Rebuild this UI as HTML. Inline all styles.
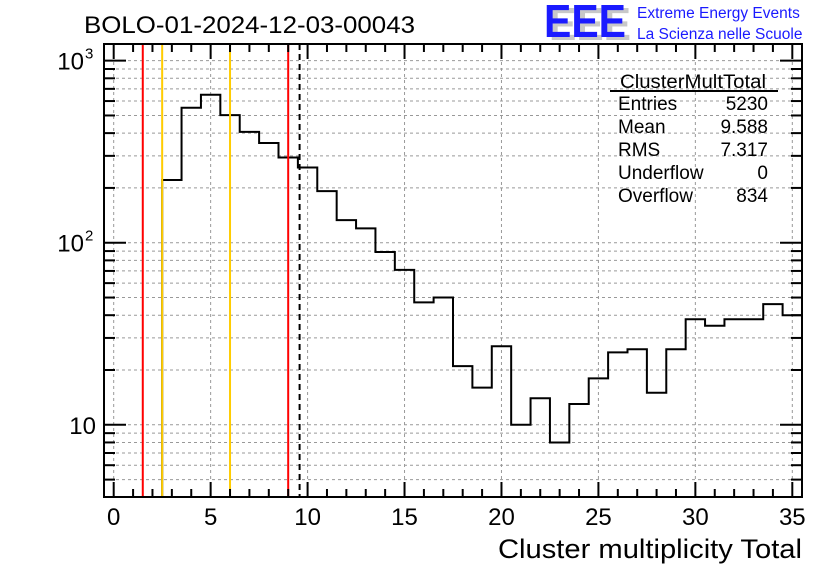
<!DOCTYPE html>
<html><head><meta charset="utf-8"><style>
body{margin:0;background:#fff}
svg{display:block;font-family:"Liberation Sans",sans-serif}
</style></head><body>
<svg id="c" width="836" height="572" xmlns="http://www.w3.org/2000/svg">
<rect width="836" height="572" fill="#fff"/>
<text x="84" y="33" font-size="24" textLength="331" lengthAdjust="spacingAndGlyphs">BOLO-01-2024-12-03-00043</text>
<g>
<text x="549" y="40" font-size="46" font-weight="bold" fill="#c8c8c8" textLength="82" lengthAdjust="spacingAndGlyphs">EEE</text>
<text x="544" y="37" font-size="46" font-weight="bold" fill="#1a1aff" textLength="82" lengthAdjust="spacingAndGlyphs">EEE</text>
<text x="637" y="18" font-size="15.5" fill="#1a1aff">Extreme Energy Events</text>
<text x="637" y="39" font-size="15.5" fill="#1a1aff">La Scienza nelle Scuole</text>
</g>
<g id="grid"></g>
<g id="marks"></g>
<g id="axes"></g>
<g font-size="19">
<text x="620" y="88" textLength="146" lengthAdjust="spacingAndGlyphs">ClusterMultTotal</text>
<line x1="610" y1="91" x2="778" y2="91" stroke="#000" stroke-width="2"/>
<text x="618" y="110">Entries</text><text x="768" y="110" text-anchor="end">5230</text>
<text x="618" y="133">Mean</text><text x="768" y="133" text-anchor="end">9.588</text>
<text x="618" y="156">RMS</text><text x="768" y="156" text-anchor="end">7.317</text>
<text x="618" y="179">Underflow</text><text x="768" y="179" text-anchor="end">0</text>
<text x="618" y="202">Overflow</text><text x="768" y="202" text-anchor="end">834</text>
</g>
<text x="802" y="558" font-size="27" text-anchor="end" textLength="304" lengthAdjust="spacingAndGlyphs">Cluster multiplicity Total</text>
</svg>
<script>
const binCenters = [0,1,2,3,4,5,6,7,8,9,10,11,12,13,14,15,16,17,18,19,20,21,22,23,24,25,26,27,28,29,30,31,32,33,34,35];
const counts = [0,0,0,221,551,650,502,406,353,294,259,192,133,120,89,71,47,50,21,16,27,10,14,8,13,18,25,26,15,26,38,35,38,38,46,40];
const xTicks = [0,5,10,15,20,25,30,35];
const yDecades = [10,100,1000];
const redLines = [1.5,9];
const yellowLines = [2.5,6];
const meanValue = [9.588];

const L=104,R=802,T=44,B=497;
const X0=-0.5,X1=35.5;
const yTop=3.0915, yBot=0.6035;
const sx=v=>L+(v-X0)/(X1-X0)*(R-L);
const sy=v=>{const lv=Math.log10(Math.max(v,1e-9));return T+(yTop-lv)/(yTop-yBot)*(B-T);};
const NS="http://www.w3.org/2000/svg";
function mk(tag,attrs,parent){const e=document.createElementNS(NS,tag);for(const k in attrs)e.setAttribute(k,attrs[k]);parent.appendChild(e);return e;}
const grid=document.getElementById('grid'),marks=document.getElementById('marks'),axes=document.getElementById('axes');

xTicks.forEach(t=>{const l=mk('line',{x1:sx(t),x2:sx(t),y1:T,y2:B,stroke:'#999','stroke-dasharray':'3,3','stroke-width':1},grid);

});
const yGridVals=[];
[1,10,100,1000].forEach(d=>{for(let m=1;m<10;m++){const v=d*m;const y=sy(v);if(y>T+1&&y<B-1)yGridVals.push(v);}});
yGridVals.forEach(v=>{const l=mk('line',{x1:L,x2:R,y1:sy(v),y2:sy(v),stroke:'#999','stroke-dasharray':'3,3','stroke-width':1},grid);

});

let d='';let prev=null;
binCenters.forEach((c,i)=>{const v=counts[i];const y=v>0?sy(v):B;const x0=sx(c-0.5),x1=sx(c+0.5);
 if(prev===null){d+=`M${x0},${y}`;}else{d+=`L${x0},${y}`;}d+=`L${x1},${y}`;prev=y;});
const h=mk('path',{d:d,fill:'none',stroke:'#000','stroke-width':2},marks);



redLines.forEach(v=>{const l=mk('line',{x1:sx(v),x2:sx(v),y1:T,y2:B,stroke:'#ff0000','stroke-width':2},marks);

});
yellowLines.forEach(v=>{const l=mk('line',{x1:sx(v),x2:sx(v),y1:T,y2:B,stroke:'#ffcc00','stroke-width':2},marks);

});
meanValue.forEach(v=>{const l=mk('line',{x1:sx(v),x2:sx(v),y1:T,y2:B,stroke:'#000','stroke-width':2,'stroke-dasharray':'6,4'},marks);

});

const f=mk('rect',{x:L,y:T,width:R-L,height:B-T,fill:'none',stroke:'#000','stroke-width':2},axes);



for(let t=0;t<=35;t++){const major=t%5===0;const len=major?15:8;const x=sx(t);
 mk('line',{x1:x,x2:x,y1:B,y2:B-len,stroke:'#000','stroke-width':2},axes);
 mk('line',{x1:x,x2:x,y1:T,y2:T+len,stroke:'#000','stroke-width':2},axes);}
xTicks.forEach(t=>{const tx=mk('text',{x:sx(t),y:525,'font-size':24,'text-anchor':'middle'},axes);tx.textContent=t;

});

[1,10,100,1000].forEach(dd=>{for(let m=1;m<10;m++){const v=dd*m;const y=sy(v);if(y<T||y>B)continue;const len=m===1?22:11;
 mk('line',{x1:L,x2:L+len,y1:y,y2:y,stroke:'#000','stroke-width':2},axes);
 mk('line',{x1:R,x2:R-len,y1:y,y2:y,stroke:'#000','stroke-width':2},axes);}});
yDecades.forEach(v=>{const y=sy(v)+9;const e=Math.round(Math.log10(v));
 const tx=mk('text',{x:e===1?96:84,y:y,'font-size':24,'text-anchor':'end'},axes);tx.textContent='10';
 
 
 if(e>1){const s=mk('text',{x:85,y:y-11,'font-size':15},axes);s.textContent=String(e);}});
</script>
</body></html>
